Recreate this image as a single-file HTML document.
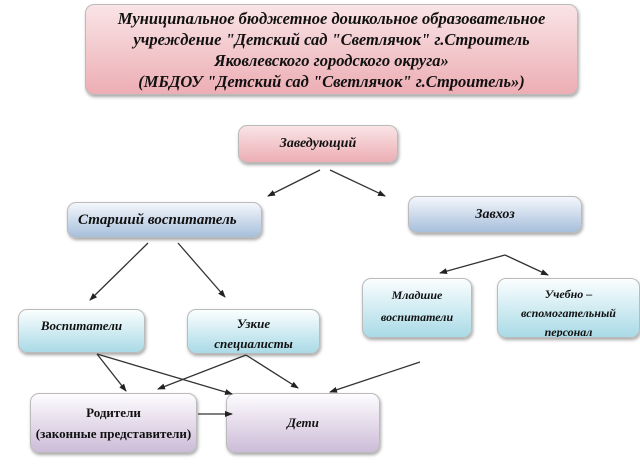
<!DOCTYPE html>
<html><head><meta charset="utf-8"><style>
body{margin:0;width:640px;height:466px;background:#fff;position:relative;overflow:hidden;font-family:"Liberation Serif","DejaVu Serif",serif;font-style:italic;font-weight:bold;color:#111}
.b{position:absolute;border-radius:9px;display:flex;align-items:center;justify-content:center;text-align:center;box-shadow:1px 2px 3px rgba(0,0,0,.35);box-sizing:border-box;border:1px solid #bbb}
.r{background:linear-gradient(#f9e4e6,#ecaeb4);}
.bl{background:linear-gradient(#f4f7fb,#a6bfdc);}
.c{background:linear-gradient(#fbfeff,#a9dae6);align-items:flex-start;padding-top:8px}
.p{background:linear-gradient(#fdfcfe,#cdbcd8);}
svg{position:absolute;left:0;top:0}
</style></head><body>
<div class="b r" style="left:85px;top:4px;width:493px;height:91px;font-size:16.5px;line-height:21px">Муниципальное бюджетное дошкольное образовательное<br>учреждение "Детский сад "Светлячок" г.Строитель<br>Яковлевского городского округа»<br>(МБДОУ "Детский сад "Светлячок" г.Строитель»)</div>
<div class="b r" style="left:238px;top:125px;width:160px;height:38px;font-size:14px">Заведующий</div>
<div class="b bl" style="left:67px;top:202px;width:195px;height:36px;font-size:15px;justify-content:flex-start;padding-left:10px">Старший воспитатель</div>
<div class="b bl" style="left:408px;top:196px;width:174px;height:37px;font-size:14px">Завхоз</div>
<div class="b c" style="left:18px;top:309px;width:127px;height:44px;font-size:13px">Воспитатели</div>
<div class="b c" style="left:187px;top:309px;width:133px;height:45px;font-size:13px;line-height:20px;padding-top:4px">Узкие<br>специалисты</div>
<div class="b c" style="left:362px;top:278px;width:110px;height:60px;font-size:12px;line-height:22px;padding-top:5px">Младшие<br>воспитатели</div>
<div class="b c" style="left:497px;top:278px;width:143px;height:60px;font-size:12px;line-height:19px;padding-top:6px;overflow:hidden">Учебно –<br>вспомогательный<br>персонал</div>
<div class="b p" style="left:30px;top:393px;width:167px;height:60px;font-size:13px;line-height:21px;font-style:normal">Родители<br>(законные представители)</div>
<div class="b p" style="left:226px;top:393px;width:154px;height:60px;font-size:13px">Дети</div>
<svg width="640" height="466"><defs><marker id="a" markerWidth="8" markerHeight="8" refX="7" refY="4" orient="auto" markerUnits="userSpaceOnUse"><path d="M0,1L8,4L0,7z" fill="#222"/></marker></defs>
<g stroke="#333" stroke-width="1.3" marker-end="url(#a)">
<line x1="320" y1="170" x2="268" y2="196"/><line x1="330" y1="170" x2="385" y2="196"/>
<line x1="148" y1="243" x2="90" y2="300"/><line x1="178" y1="243" x2="225" y2="297"/>
<line x1="505" y1="255" x2="440" y2="273"/><line x1="505" y1="255" x2="548" y2="275"/>
<line x1="97" y1="354" x2="126" y2="391"/><line x1="97" y1="354" x2="232" y2="394"/>
<line x1="246" y1="355" x2="158" y2="389"/><line x1="246" y1="355" x2="298" y2="388"/>
<line x1="420" y1="362" x2="330" y2="392"/><line x1="198" y1="414" x2="232" y2="414"/>
</g></svg>
</body></html>
